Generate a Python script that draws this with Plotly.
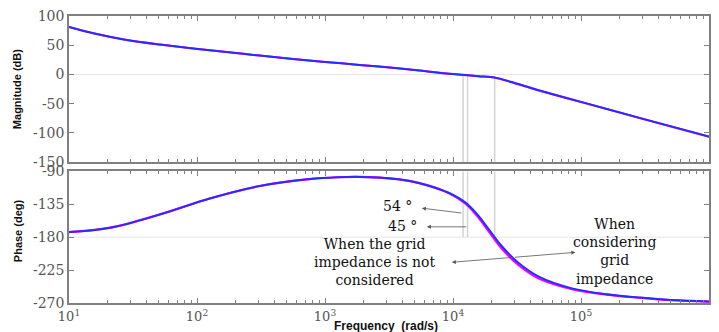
import plotly.graph_objects as go

# ---------------- data ----------------
mag_freq = [10, 15.5, 28.2, 51.3, 93.3, 170, 309, 562, 1000, 1862, 2630, 5012,
            9333, 12023, 15849, 21380, 28184, 46774, 100000, 316228, 1000000]
mag_db = [81.3, 70.5, 59, 51.2, 44.5, 38.2, 32.2, 26.5, 21.3, 16.3, 13.5, 7.5,
          1, -0.8, -3, -5.5, -12.5, -27, -47, -77, -106.5]
mag_db_grid = [81.3, 70.5, 59, 51.2, 44.5, 38.2, 32.2, 26.5, 21.3, 16.3, 13.5, 7.5,
               1, -0.9, -3.2, -5.8, -13, -27.5, -47.3, -77.2, -106.7]

ph_freq = [10, 21, 51, 126, 309, 760, 1260, 1860, 2630, 4570, 6460, 9330,
           12600, 15850, 19000, 24000, 32400, 46800, 85100, 158000, 282000,
           500000, 1000000]
ph_deg = [-173, -167, -149, -127, -110, -100.5, -98, -97.5, -98.5, -103, -109.5,
          -119.5, -133, -151, -169, -192, -215, -234, -250, -258, -262.5,
          -266, -268]
ph_deg_grid = [-173, -167, -149, -127, -110, -100.5, -98, -97.5, -98.5, -103,
               -109.5, -120, -134.5, -153.5, -172, -195.5, -218, -236.5, -251,
               -258.5, -262.8, -266.2, -268.2]

cross_freqs = [11990, 13000, 21160]
cross_mag_top = [0, 0, -5.5]

mag_ticks = [100, 50, 0, -50, -100, -150]
ph_ticks = [-90, -135, -180, -225, -270]
dec_vals = [10, 100, 1000, 10000, 100000, 1000000]
dec_text = ["10<sup>1</sup>", "10<sup>2</sup>", "10<sup>3</sup>",
            "10<sup>4</sup>", "10<sup>5</sup>", "10<sup>6</sup>"]
minor_vals = [m * d for d in [10, 100, 1000, 10000, 100000] for m in range(2, 10)]

BLUE = "#2b2bff"
MAG = "#ff00ff"
AX = "#808080"
TICKF = dict(family="DejaVu Serif", size=14, color="#555555")
XTICKF = dict(family="DejaVu Serif", size=13, color="#555555")
SERIF = dict(family="DejaVu Serif", size=14, color="#111111")

fig = go.Figure()

# vertical marker lines
for f, top in zip(cross_freqs, cross_mag_top):
    fig.add_trace(go.Scatter(x=[f, f], y=[top, -150], mode="lines",
                             line=dict(color="#d4d4d4", width=1.5),
                             xaxis="x", yaxis="y", showlegend=False, hoverinfo="skip"))
    fig.add_trace(go.Scatter(x=[f, f], y=[-90, -180], mode="lines",
                             line=dict(color="#d4d4d4", width=1.5),
                             xaxis="x2", yaxis="y2", showlegend=False, hoverinfo="skip"))

fig.add_trace(go.Scatter(x=mag_freq, y=mag_db_grid, mode="lines",
                         line=dict(color=MAG, width=2, shape="spline", smoothing=0.8),
                         xaxis="x", yaxis="y", showlegend=False))
fig.add_trace(go.Scatter(x=mag_freq, y=mag_db, mode="lines",
                         line=dict(color=BLUE, width=2, shape="spline", smoothing=0.8),
                         xaxis="x", yaxis="y", showlegend=False))
fig.add_trace(go.Scatter(x=ph_freq, y=ph_deg_grid, mode="lines",
                         line=dict(color=MAG, width=2.2, shape="spline", smoothing=1),
                         xaxis="x2", yaxis="y2", showlegend=False))
fig.add_trace(go.Scatter(x=ph_freq, y=ph_deg, mode="lines",
                         line=dict(color=BLUE, width=2, shape="spline", smoothing=1),
                         xaxis="x2", yaxis="y2", showlegend=False))

xcommon = dict(type="log", range=[1, 6], showgrid=False, zeroline=False,
               showline=True, linecolor=AX, linewidth=1.5, mirror="ticks",
               ticks="inside", ticklen=5, tickcolor=AX, tickwidth=1.2,
               tickvals=dec_vals,
               minor=dict(tickmode="array", tickvals=minor_vals, ticks="inside",
                          ticklen=3, tickcolor=AX, tickwidth=1))

fig.update_layout(
    width=719, height=332,
    margin=dict(l=69, r=8, t=14, b=29),
    paper_bgcolor="white", plot_bgcolor="white",
    xaxis=dict(**xcommon, domain=[0, 1], anchor="y", showticklabels=False),
    xaxis2=dict(**xcommon, domain=[0, 1], anchor="y2", ticktext=dec_text,
                tickfont=XTICKF, ticklabelstandoff=1),
    yaxis=dict(domain=[0.4913, 1], range=[-150, 100], anchor="x",
               tickvals=mag_ticks, ticktext=[str(v) for v in mag_ticks],
               tickfont=TICKF, showgrid=False, zeroline=True,
               zerolinecolor="#e6e6e6", zerolinewidth=1,
               showline=True, linecolor=AX, linewidth=1.5, mirror="ticks",
               ticks="inside", ticklen=5, tickcolor=AX),
    yaxis2=dict(domain=[0, 0.4585], range=[-270, -90], anchor="x2",
                tickvals=ph_ticks, ticktext=[str(v) for v in ph_ticks],
                tickfont=TICKF, showgrid=False, zeroline=False,
                showline=True, linecolor=AX, linewidth=1.5, mirror="ticks",
                ticks="inside", ticklen=5, tickcolor=AX),
    shapes=[dict(type="line", xref="x2 domain", yref="y2", x0=0, x1=1,
                 y0=-180, y1=-180, line=dict(color="#e6e6e6", width=1),
                 layer="below")],
)

ann = []
# axis titles
TFONT = dict(family="Liberation Sans", size=11, color="#111")
ann.append(dict(text="<b>Magnitude (dB)</b>", xref="paper", yref="paper",
                x=-0.0802, y=0.744, xanchor="center", yanchor="middle",
                textangle=-90, showarrow=False, font=TFONT))
ann.append(dict(text="<b>Phase (deg)</b>", xref="paper", yref="paper",
                x=-0.0802, y=0.2526, xanchor="center", yanchor="middle",
                textangle=-90, showarrow=False, font=TFONT))
ann.append(dict(text="<b>Frequency  (rad/s)</b>", xref="paper", yref="paper",
                x=0.495, y=-0.0813, xanchor="center", yanchor="middle",
                showarrow=False,
                font=dict(family="Liberation Sans", size=12, color="#111")))

# labels
ann.append(dict(text="54 °", xref="x2", yref="y2", x=3.570, y=-136.9,
                showarrow=False, font=SERIF))
ann.append(dict(text="45 °", xref="x2", yref="y2", x=3.605, y=-164.0,
                showarrow=False, font=SERIF))
ann.append(dict(text="When the grid<br>impedance is not<br>considered",
                xref="x2", yref="y2", x=3.383, y=-214.3, xanchor="center",
                yanchor="middle", showarrow=False, font=SERIF))
ann.append(dict(text="When<br>considering<br>grid<br>impedance",
                xref="x2", yref="y2", x=5.26, y=-200.0, xanchor="center",
                yanchor="middle", showarrow=False, font=SERIF))

# arrows
arrow = dict(xref="x2", yref="y2", text="", showarrow=True, arrowhead=2,
             arrowsize=1, arrowwidth=0.8, arrowcolor="#555555")
ann.append(dict(**arrow, x=3.757, y=-140.3, ax=41, ay=5))
ann.append(dict(**arrow, x=3.796, y=-165.8, ax=41, ay=0))
ann.append(dict(**arrow, x=3.991, y=-214.3, ax=62, ay=-5))
ann.append(dict(**arrow, x=4.956, y=-200.7, ax=-62, ay=5))

fig.update_layout(annotations=ann)
fig.write_html("out.html")
